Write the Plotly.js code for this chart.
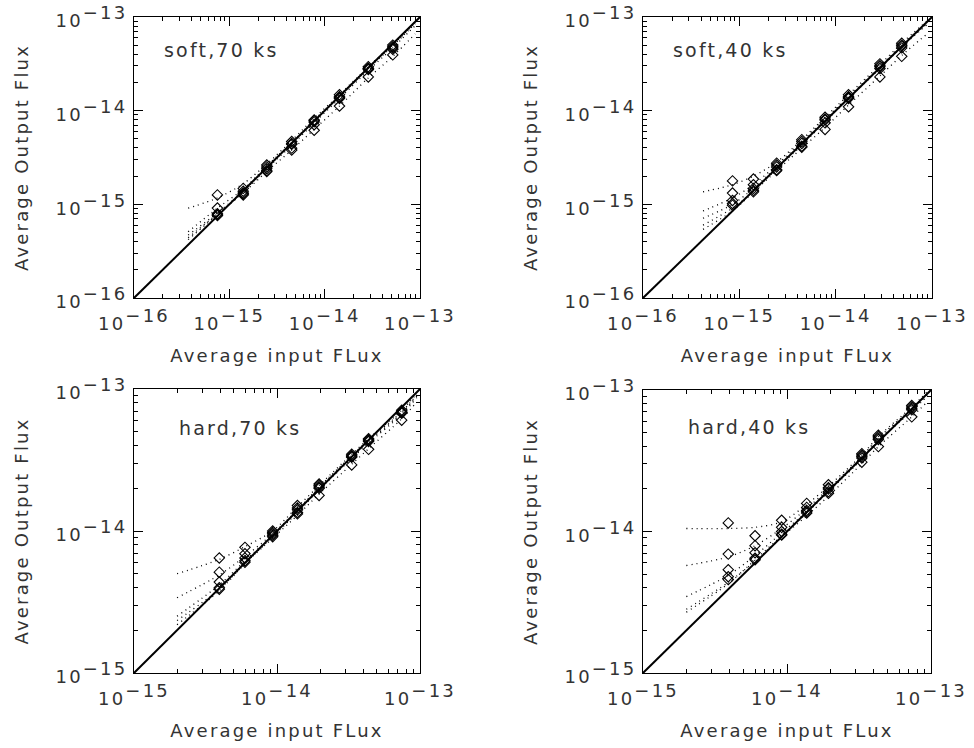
<!DOCTYPE html>
<html>
<head>
<meta charset="utf-8">
<script src="https://cdn.plot.ly/plotly-3.0.1.min.js"></script>
<style>html,body{margin:0;padding:0;background:#fff;}#chart{width:974px;height:748px;}</style>
</head>
<body>
<div id="chart"></div>
<script>
// ---------------- DATA ----------------
const panelLabels = ['soft,70 ks', 'soft,40 ks', 'hard,70 ks', 'hard,40 ks'];
const xTitle = 'Average input FLux';
const yTitle = 'Average Output Flux';
const softTickVals = [1e-16, 1e-15, 1e-14, 1e-13];
const softTickText = ['−16', '−15', '−14', '−13'];
const hardTickVals = [1e-15, 1e-14, 1e-13];
const hardTickText = ['−15', '−14', '−13'];

// input fluxes (x) of the diamonds
const soft70In = [7.5e-16, 1.40e-15, 2.47e-15, 4.51e-15, 7.76e-15, 1.43e-14, 2.87e-14, 5.18e-14];
const soft40In = [8.5e-16, 1.40e-15, 2.44e-15, 4.45e-15, 7.76e-15, 1.36e-14, 2.88e-14, 4.85e-14];
const hard70In = [3.95e-15, 5.97e-15, 9.33e-15, 1.39e-14, 1.97e-14, 3.33e-14, 4.37e-14, 7.45e-14];
const hard40In = [3.91e-15, 6.00e-15, 9.18e-15, 1.37e-14, 1.94e-14, 3.31e-14, 4.31e-14, 7.35e-14];

// output fluxes (y), one row per realisation
const soft70Out = [
  [1.26e-15, 1.48e-15, 2.63e-15, 4.68e-15, 7.94e-15, 1.48e-14, 2.95e-14, 5.01e-14],
  [9.12e-16, 1.38e-15, 2.51e-15, 4.47e-15, 7.82e-15, 1.41e-14, 2.83e-14, 4.82e-14],
  [7.94e-16, 1.32e-15, 2.40e-15, 4.37e-15, 7.59e-15, 1.38e-14, 2.82e-14, 4.68e-14],
  [7.59e-16, 1.26e-15, 2.24e-15, 3.98e-15, 7.08e-15, 1.35e-14, 2.75e-14, 4.52e-14],
  [7.76e-16, 1.29e-15, 2.29e-15, 3.80e-15, 6.17e-15, 1.12e-14, 2.29e-14, 3.94e-14]
];
const soft40Out = [
  [1.78e-15, 1.86e-15, 2.75e-15, 4.90e-15, 8.51e-15, 1.48e-14, 3.16e-14, 5.25e-14],
  [1.32e-15, 1.62e-15, 2.63e-15, 4.68e-15, 8.13e-15, 1.41e-14, 3.02e-14, 5.01e-14],
  [1.10e-15, 1.48e-15, 2.51e-15, 4.47e-15, 7.94e-15, 1.38e-14, 2.95e-14, 4.90e-14],
  [9.80e-16, 1.36e-15, 2.29e-15, 4.17e-15, 7.41e-15, 1.35e-14, 2.82e-14, 4.68e-14],
  [1.02e-15, 1.41e-15, 2.34e-15, 4.07e-15, 6.31e-15, 1.10e-14, 2.29e-14, 3.80e-14]
];
const hard70Out = [
  [6.46e-15, 7.67e-15, 1.00e-14, 1.51e-14, 2.14e-14, 3.47e-14, 4.47e-14, 7.08e-14],
  [5.13e-15, 6.92e-15, 9.77e-15, 1.45e-14, 2.09e-14, 3.39e-14, 4.37e-14, 6.92e-14],
  [4.37e-15, 6.46e-15, 9.55e-15, 1.41e-14, 2.04e-14, 3.35e-14, 4.37e-14, 6.84e-14],
  [3.89e-15, 6.03e-15, 9.33e-15, 1.35e-14, 2.00e-14, 3.31e-14, 4.27e-14, 6.76e-14],
  [3.98e-15, 6.17e-15, 9.12e-15, 1.32e-14, 1.78e-14, 2.92e-14, 3.76e-14, 6.03e-14]
];
const hard40Out = [
  [1.15e-14, 9.33e-15, 1.20e-14, 1.58e-14, 2.14e-14, 3.55e-14, 4.79e-14, 7.76e-14],
  [6.92e-15, 7.94e-15, 1.07e-14, 1.48e-14, 2.04e-14, 3.47e-14, 4.68e-14, 7.59e-14],
  [5.37e-15, 7.08e-15, 1.00e-14, 1.41e-14, 2.00e-14, 3.39e-14, 4.57e-14, 7.41e-14],
  [4.57e-15, 6.31e-15, 9.44e-15, 1.38e-14, 1.91e-14, 3.31e-14, 4.47e-14, 7.24e-14],
  [4.79e-15, 6.46e-15, 9.55e-15, 1.35e-14, 1.86e-14, 3.09e-14, 3.98e-14, 6.46e-14]
];

// dotted curves: x positions and one y row per realisation
const soft70CurveX = [3.7e-16, 7.5e-16, 1.40e-15, 2.47e-15, 4.51e-15, 7.76e-15, 1.43e-14, 2.87e-14, 5.18e-14, 8.9e-14];
const soft70Curves = [
  [9.1e-16, 1.17e-15, 1.66e-15, 2.69e-15, 4.79e-15, 8.32e-15, 1.48e-14, 2.95e-14, 5.13e-14, 8.9e-14],
  [5.1e-16, 9.1e-16, 1.45e-15, 2.57e-15, 4.57e-15, 7.94e-15, 1.45e-14, 2.88e-14, 5.01e-14, 8.7e-14],
  [4.7e-16, 8.1e-16, 1.38e-15, 2.45e-15, 4.47e-15, 7.76e-15, 1.41e-14, 2.82e-14, 4.90e-14, 8.5e-14],
  [4.2e-16, 7.8e-16, 1.35e-15, 2.40e-15, 4.27e-15, 7.41e-15, 1.35e-14, 2.69e-14, 4.68e-14, 8.1e-14],
  [4.4e-16, 7.9e-16, 1.32e-15, 2.24e-15, 3.80e-15, 6.31e-15, 1.12e-14, 2.24e-14, 3.80e-14, 6.6e-14]
];
const soft40CurveX = [4.2e-16, 8.5e-16, 1.40e-15, 2.44e-15, 4.45e-15, 7.76e-15, 1.36e-14, 2.88e-14, 4.85e-14, 8.9e-14];
const soft40Curves = [
  [1.36e-15, 1.62e-15, 2.00e-15, 2.82e-15, 4.90e-15, 8.51e-15, 1.48e-14, 3.09e-14, 5.25e-14, 9.1e-14],
  [8.5e-16, 1.17e-15, 1.62e-15, 2.63e-15, 4.68e-15, 8.13e-15, 1.41e-14, 2.95e-14, 5.01e-14, 8.7e-14],
  [7.1e-16, 1.00e-15, 1.48e-15, 2.51e-15, 4.47e-15, 7.94e-15, 1.38e-14, 2.88e-14, 4.90e-14, 8.5e-14],
  [6.0e-16, 9.1e-16, 1.38e-15, 2.40e-15, 4.27e-15, 7.59e-15, 1.35e-14, 2.82e-14, 4.79e-14, 8.3e-14],
  [5.4e-16, 8.5e-16, 1.35e-15, 2.29e-15, 3.98e-15, 6.61e-15, 1.15e-14, 2.34e-14, 3.89e-14, 6.6e-14]
];
const hard70CurveX = [2.0e-15, 3.95e-15, 5.97e-15, 9.33e-15, 1.39e-14, 1.97e-14, 3.33e-14, 4.37e-14, 7.45e-14, 9.5e-14];
const hard70Curves = [
  [5.0e-15, 6.31e-15, 7.76e-15, 1.00e-14, 1.48e-14, 2.09e-14, 3.47e-14, 4.47e-14, 7.08e-14, 9.3e-14],
  [3.39e-15, 4.90e-15, 6.61e-15, 9.55e-15, 1.41e-14, 2.04e-14, 3.39e-14, 4.37e-14, 6.92e-14, 9.1e-14],
  [2.51e-15, 4.17e-15, 6.17e-15, 9.33e-15, 1.38e-14, 2.00e-14, 3.31e-14, 4.27e-14, 6.76e-14, 8.9e-14],
  [2.19e-15, 3.80e-15, 5.89e-15, 9.12e-15, 1.35e-14, 1.95e-14, 3.24e-14, 4.17e-14, 6.61e-14, 8.7e-14],
  [2.34e-15, 3.89e-15, 5.89e-15, 8.91e-15, 1.29e-14, 1.82e-14, 2.95e-14, 3.80e-14, 6.17e-14, 8.1e-14]
];
const hard40CurveX = [2.0e-15, 3.91e-15, 6.00e-15, 9.18e-15, 1.37e-14, 1.94e-14, 3.31e-14, 4.31e-14, 7.35e-14, 9.5e-14];
const hard40Curves = [
  [1.05e-14, 1.05e-14, 1.07e-14, 1.17e-14, 1.55e-14, 2.09e-14, 3.47e-14, 4.68e-14, 7.59e-14, 9.8e-14],
  [5.75e-15, 6.61e-15, 7.94e-15, 1.05e-14, 1.45e-14, 2.00e-14, 3.39e-14, 4.57e-14, 7.41e-14, 9.5e-14],
  [3.47e-15, 4.90e-15, 6.76e-15, 9.77e-15, 1.38e-14, 1.95e-14, 3.31e-14, 4.47e-14, 7.24e-14, 9.3e-14],
  [2.69e-15, 4.27e-15, 6.31e-15, 9.33e-15, 1.35e-14, 1.91e-14, 3.24e-14, 4.37e-14, 7.08e-14, 9.1e-14],
  [2.82e-15, 4.37e-15, 6.17e-15, 9.12e-15, 1.29e-14, 1.78e-14, 3.02e-14, 3.98e-14, 6.46e-14, 8.3e-14]
];

// ---------------- BUILD ----------------
const FONT = 'DejaVu Sans';
const TXT = '#333';
const SPACING = '2.2px';
const panels = [
  {inX: soft70In, out: soft70Out, cx: soft70CurveX, cy: soft70Curves, lim: [1e-16, 1e-13], tv: softTickVals, tt: softTickText},
  {inX: soft40In, out: soft40Out, cx: soft40CurveX, cy: soft40Curves, lim: [1e-16, 1e-13], tv: softTickVals, tt: softTickText},
  {inX: hard70In, out: hard70Out, cx: hard70CurveX, cy: hard70Curves, lim: [1e-15, 1e-13], tv: hardTickVals, tt: hardTickText},
  {inX: hard40In, out: hard40Out, cx: hard40CurveX, cy: hard40Curves, lim: [1e-15, 1e-13], tv: hardTickVals, tt: hardTickText}
];
const W = 974, H = 748;
// plot-area pixel boxes [left, right, top, bottom]
const boxes = [[134, 420, 17, 298], [643, 932, 17, 298], [134, 420, 389, 673], [643, 931, 390, 673]];
const labelPos = [[0.135, 0.883], [0.134, 0.883], [0.19, 0.862], [0.189, 0.870]];

// minor tick positions (2..9 within each decade of the axis range)
function minorVals(lim) {
  const out = [];
  for (let e = Math.round(Math.log10(lim[0])); e < Math.round(Math.log10(lim[1])); e++) {
    for (let m = 2; m <= 9; m++) out.push(m * Math.pow(10, e));
  }
  return out;
}

const traces = [];
const layout = {
  width: W, height: H, margin: {l: 0, r: 0, t: 0, b: 0},
  paper_bgcolor: '#fff', plot_bgcolor: '#fff', showlegend: false,
  font: {family: FONT, color: TXT, size: 18},
  annotations: []
};

panels.forEach((p, i) => {
  const n = i + 1;
  const sfx = n === 1 ? '' : String(n);
  const xa = 'x' + sfx, ya = 'y' + sfx;
  const b = boxes[i];
  const common = {
    type: 'log', showgrid: false, zeroline: false,
    showline: true, linecolor: '#000', linewidth: 1, mirror: 'ticks',
    ticks: 'inside', ticklen: 9, tickwidth: 1, tickcolor: '#000',
    tickmode: 'array', tickvals: p.tv, ticktext: p.tt.map(t => '10<sup>' + t + '</sup>'),
    tickfont: {family: FONT, size: 18, color: TXT},
    minor: {tickmode: 'array', tickvals: minorVals(p.lim), ticks: 'inside', ticklen: 4,
            tickwidth: 1, tickcolor: '#000', showgrid: false},
    automargin: false, fixedrange: true,
    range: [Math.log10(p.lim[0]), Math.log10(p.lim[1])]
  };
  layout['xaxis' + sfx] = Object.assign({}, common, {
    domain: [b[0] / W, b[1] / W], anchor: ya, ticklabelstandoff: 9,
    title: {text: xTitle, font: {family: FONT, size: 18, color: TXT}, standoff: 16}
  });
  layout['yaxis' + sfx] = Object.assign({}, common, {
    domain: [(H - b[3]) / H, (H - b[2]) / H], anchor: xa, ticklabelstandoff: 2,
    title: {text: yTitle, font: {family: FONT, size: 18, color: TXT}, standoff: 44}
  });
  // identity line
  traces.push({x: p.lim, y: p.lim, xaxis: xa, yaxis: ya, mode: 'lines',
    line: {color: '#000', width: 2}, hoverinfo: 'skip'});
  // dotted curves
  p.cy.forEach(row => traces.push({x: p.cx, y: row, xaxis: xa, yaxis: ya, mode: 'lines',
    line: {color: '#000', width: 1.3, dash: '1px,4px', shape: 'spline', smoothing: 0.8}, hoverinfo: 'skip'}));
  // diamonds
  p.out.forEach(row => traces.push({x: p.inX, y: row, xaxis: xa, yaxis: ya, mode: 'markers',
    marker: {symbol: 'diamond-open', size: 8, color: '#000', line: {width: 1.1, color: '#000'}}}));
  layout.annotations.push({text: panelLabels[i], xref: xa + ' domain', yref: ya + ' domain',
    x: labelPos[i][0], y: labelPos[i][1], xanchor: 'left', yanchor: 'middle', showarrow: false,
    font: {family: FONT, size: 19, color: TXT}});
});

Plotly.newPlot('chart', traces, layout, {staticPlot: true}).then(gd => {
  // IDL-style wide lettering and full-size exponents on every axis
  gd.querySelectorAll('.xaxislayer-above text, .yaxislayer-above text').forEach(t => {
    t.style.letterSpacing = SPACING;
    t.querySelectorAll('tspan').forEach(ts => {
      if (ts.style.fontSize) {
        ts.style.fontSize = '18px';
        const dy = ts.getAttribute('dy');
        if (dy && dy.charAt(0) === '-') ts.setAttribute('dy', '-0.45em');
      }
    });
  });
  // y labels sit slightly below their tick, as in the reference
  gd.querySelectorAll('.yaxislayer-above text').forEach(t => {
    const y = parseFloat(t.getAttribute('y') || '0');
    t.setAttribute('y', String(y + 4));
  });
  gd.querySelectorAll('text.annotation-text, text[class$="title"]').forEach(t => {
    t.style.letterSpacing = SPACING;
  });
});
</script>
</body>
</html>
